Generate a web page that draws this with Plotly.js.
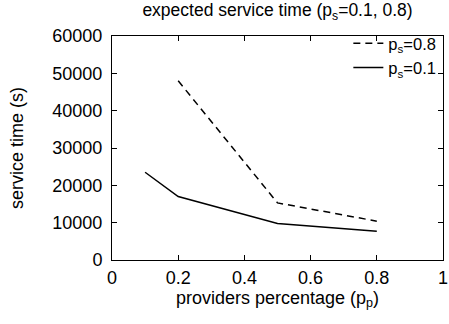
<!DOCTYPE html>
<html><head><meta charset="utf-8">
<script src="https://cdn.plot.ly/plotly-3.0.1.min.js"></script>
<style>body{margin:0;padding:0;}#c{width:449px;height:324px;}</style>
</head><body><div id="c"></div>
<script>
const xP08 = [0.2, 0.5, 0.8];
const yP08 = [48000, 15300, 10400];
const xP01 = [0.1, 0.2, 0.5, 0.8];
const yP01 = [23500, 17000, 9800, 7700];
const xTicks = [0, 0.2, 0.4, 0.6, 0.8, 1];
const xTickLabels = ['0', '0.2', '0.4', '0.6', '0.8', '1'];
const yTicks = [0, 10000, 20000, 30000, 40000, 50000, 60000];
const yTickLabels = ['0', '10000', '20000', '30000', '40000', '50000', '60000'];

const fam = 'Liberation Sans, Arial, sans-serif';
const font = {family: fam, size: 18, color: '#000'};
const data = [
  {x: xP08, y: yP08, mode: 'lines', name: 'p<sub>s</sub>=0.8', line: {color: '#000', width: 1.5, dash: '7px,5px'}},
  {x: xP01, y: yP01, mode: 'lines', name: 'p<sub>s</sub>=0.1', line: {color: '#000', width: 1.5}}
];
const axisCommon = {showgrid: false, zeroline: false, showline: true, linecolor: '#000', linewidth: 1, mirror: 'ticks', ticks: 'inside', ticklen: 5, tickcolor: '#000', tickfont: font};
const layout = {
  width: 449, height: 324,
  margin: {l: 112, r: 6, t: 36, b: 64},
  paper_bgcolor: '#fff', plot_bgcolor: '#fff',
  font: font,
  title: {text: 'expected service time (p<sub>s</sub>=0.1, 0.8)', font: {family: fam, size: 17.5, color: '#000'}, xref: 'paper', x: 0.5, xanchor: 'center', yref: 'container', y: 0.998, yanchor: 'top', pad: {t: 3}},
  xaxis: Object.assign({}, axisCommon, {range: [0, 1], tickvals: xTicks, ticktext: xTickLabels, ticklabelstandoff: 1, title: {text: 'providers percentage (p<sub>p</sub>)', font: font, standoff: 4}}),
  yaxis: Object.assign({}, axisCommon, {range: [0, 60000], tickvals: yTicks, ticktext: yTickLabels, ticklabelstandoff: 5, title: {text: 'service time (s)', font: font, standoff: 24}}),
  legend: {x: 0.995, y: 1.045, xanchor: 'right', yanchor: 'top', bgcolor: 'rgba(0,0,0,0)', font: {family: fam, size: 16.5, color: '#000'}, itemwidth: 30},
  showlegend: true
};
Plotly.newPlot('c', data, layout, {displayModeBar: false, staticPlot: true});
</script></body></html>
